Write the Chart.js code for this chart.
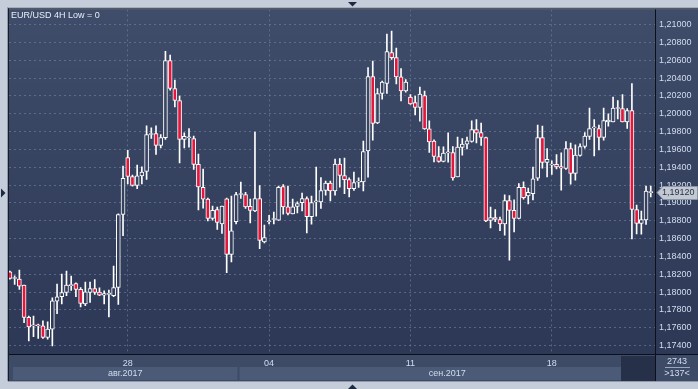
<!DOCTYPE html>
<html>
<head>
<meta charset="utf-8">
<script src="https://cdn.jsdelivr.net/npm/chart.js@4/dist/chart.umd.min.js"></script>
<style>
html, body { margin: 0; padding: 0; background: #c4cdd9; }
canvas { display: block; }
</style>
</head>
<body>
<canvas id="grafico" width="698" height="389"></canvas>
<script>
// =============================================
// EUR/USD 4H — velas (137 barras visibles)
// =============================================

const opens = [
  1.18228, 1.18153, 1.18146, 1.18078, 1.17716, 1.17622, 1.17630, 1.17622, 1.17491, 1.17585,
  1.17899, 1.17948, 1.17996, 1.18071, 1.18097, 1.18030, 1.17869, 1.17996, 1.18041, 1.18000,
  1.17966, 1.17974, 1.17959, 1.18052, 1.18871, 1.19510, 1.19297, 1.19196, 1.19304, 1.19353,
  1.19768, 1.19779, 1.19645, 1.19731, 1.20598, 1.20284, 1.20149, 1.19712, 1.19731, 1.19723,
  1.19432, 1.19174, 1.19043, 1.18826, 1.18927, 1.18766, 1.19046, 1.18422, 1.18789, 1.19095,
  1.19095, 1.18961, 1.18912, 1.19050, 1.18564, 1.18789, 1.18815, 1.18807, 1.19185, 1.18957,
  1.18878, 1.18961, 1.19002, 1.19050, 1.18845, 1.19013, 1.19013, 1.19140, 1.19222, 1.19136,
  1.19435, 1.19308, 1.19263, 1.19159, 1.19233, 1.19237, 1.19585, 1.20418, 1.19899, 1.20228,
  1.20340, 1.20687, 1.20631, 1.20415, 1.20258, 1.20187, 1.20127, 1.20071, 1.20205, 1.19831,
  1.19693, 1.19521, 1.19465, 1.19562, 1.19566, 1.19293, 1.19622, 1.19660, 1.19689, 1.19824,
  1.19790, 1.19734, 1.18804, 1.18837, 1.18815, 1.18766, 1.19028, 1.18916, 1.18826, 1.19174,
  1.19080, 1.19103, 1.19278, 1.19734, 1.19454, 1.19424, 1.19432, 1.19409, 1.19387, 1.19611,
  1.19331, 1.19532, 1.19633, 1.19746, 1.19843, 1.19835, 1.19734, 1.19910, 1.19910, 1.20059,
  1.20059, 1.19910, 1.20037, 1.18927, 1.18770, 1.18811, 1.19116
];
const highs = [
  1.18235, 1.18183, 1.18247, 1.18078, 1.17731, 1.17731, 1.17641, 1.17678, 1.17667, 1.17936,
  1.18090, 1.18202, 1.18235, 1.18179, 1.18104, 1.18052, 1.18112, 1.18112, 1.18142, 1.18048,
  1.18015, 1.18022, 1.18291, 1.18878, 1.19413, 1.19589, 1.19312, 1.19424, 1.19405, 1.19865,
  1.19843, 1.19865, 1.19768, 1.20702, 1.20658, 1.20377, 1.20198, 1.19787, 1.19835, 1.19749,
  1.19547, 1.19379, 1.19054, 1.18964, 1.18953, 1.18964, 1.19054, 1.19076, 1.19118, 1.19233,
  1.19118, 1.19043, 1.19794, 1.19196, 1.18751, 1.18860, 1.18897, 1.19189, 1.19207, 1.19189,
  1.19043, 1.19013, 1.19110, 1.19069, 1.19076, 1.19402, 1.19286, 1.19245, 1.19245, 1.19491,
  1.19499, 1.19503, 1.19282, 1.19346, 1.19282, 1.19693, 1.20519, 1.20590, 1.20284, 1.20366,
  1.20893, 1.20927, 1.20736, 1.20508, 1.20385, 1.20216, 1.20198, 1.20299, 1.20254, 1.19921,
  1.19708, 1.19633, 1.19630, 1.19787, 1.19633, 1.19738, 1.19723, 1.19738, 1.19921, 1.19936,
  1.19895, 1.19738, 1.18953, 1.18927, 1.18841, 1.19091, 1.19084, 1.19035, 1.19218, 1.19237,
  1.19166, 1.19402, 1.19873, 1.19861, 1.19611, 1.19473, 1.19544, 1.19562, 1.19689, 1.19671,
  1.19652, 1.19663, 1.19790, 1.20063, 1.19936, 1.19873, 1.20063, 1.20000, 1.20187, 1.20149,
  1.20216, 1.20059, 1.20340, 1.18975, 1.18908, 1.19189, 1.19189
];
const lows = [
  1.18146, 1.18086, 1.18030, 1.17656, 1.17454, 1.17499, 1.17480, 1.17480, 1.17473, 1.17398,
  1.17757, 1.17869, 1.17959, 1.18019, 1.17948, 1.17835, 1.17847, 1.17884, 1.17974, 1.17959,
  1.17869, 1.17723, 1.17948, 1.17862, 1.18632, 1.19215, 1.19189, 1.19159, 1.19215, 1.19263,
  1.19723, 1.19544, 1.19618, 1.19712, 1.20265, 1.20078, 1.19450, 1.19618, 1.19626, 1.19375,
  1.18923, 1.18942, 1.18800, 1.18807, 1.18703, 1.18658, 1.18217, 1.18340, 1.18766, 1.19050,
  1.18938, 1.18777, 1.18901, 1.18486, 1.18553, 1.18766, 1.18766, 1.18804, 1.18875, 1.18867,
  1.18878, 1.18889, 1.18912, 1.18665, 1.18762, 1.18852, 1.18938, 1.19088, 1.19024, 1.19088,
  1.19177, 1.19103, 1.19069, 1.19140, 1.19174, 1.19136, 1.19289, 1.19704, 1.19888, 1.20164,
  1.20228, 1.20609, 1.20336, 1.20145, 1.20243, 1.20104, 1.19988, 1.19917, 1.19824, 1.19566,
  1.19461, 1.19458, 1.19461, 1.19458, 1.19256, 1.19293, 1.19536, 1.19607, 1.19682, 1.19674,
  1.19645, 1.18789, 1.18721, 1.18789, 1.18688, 1.18639, 1.18359, 1.18676, 1.18822, 1.19043,
  1.18990, 1.19035, 1.19252, 1.19390, 1.19293, 1.19319, 1.19383, 1.19144, 1.19375, 1.19211,
  1.19256, 1.19525, 1.19615, 1.19712, 1.19529, 1.19596, 1.19704, 1.19861, 1.19910, 1.19944,
  1.19910, 1.19835, 1.18598, 1.18654, 1.18650, 1.18759, 1.19069
];
const closes = [
  1.18153, 1.18161, 1.18067, 1.17716, 1.17611, 1.17630, 1.17622, 1.17491, 1.17585, 1.17903,
  1.17948, 1.17996, 1.18078, 1.18086, 1.18030, 1.17873, 1.18004, 1.18041, 1.17996, 1.17966,
  1.17985, 1.17978, 1.18052, 1.18871, 1.19275, 1.19297, 1.19196, 1.19304, 1.19346, 1.19768,
  1.19779, 1.19645, 1.19734, 1.20598, 1.20284, 1.20149, 1.19712, 1.19746, 1.19735, 1.19432,
  1.19181, 1.19043, 1.18826, 1.18916, 1.18781, 1.18964, 1.18422, 1.18688, 1.19095, 1.19099,
  1.18957, 1.18916, 1.19050, 1.18579, 1.18613, 1.18793, 1.18819, 1.19174, 1.18957, 1.18882,
  1.18957, 1.18994, 1.19050, 1.18845, 1.19005, 1.19017, 1.19140, 1.19222, 1.19136, 1.19435,
  1.19308, 1.19260, 1.19159, 1.19230, 1.19237, 1.19577, 1.20418, 1.19891, 1.20228, 1.20355,
  1.20699, 1.20631, 1.20415, 1.20258, 1.20355, 1.20112, 1.20071, 1.20220, 1.19831, 1.19686,
  1.19521, 1.19465, 1.19559, 1.19566, 1.19282, 1.19626, 1.19660, 1.19697, 1.19824, 1.19783,
  1.19734, 1.18800, 1.18837, 1.18815, 1.18766, 1.19028, 1.18916, 1.18826, 1.19174, 1.19058,
  1.19118, 1.19271, 1.19734, 1.19454, 1.19488, 1.19428, 1.19405, 1.19390, 1.19611, 1.19331,
  1.19536, 1.19633, 1.19749, 1.19835, 1.19847, 1.19734, 1.19925, 1.19929, 1.20063, 1.20063,
  1.19910, 1.20037, 1.18927, 1.18770, 1.18815, 1.19132, 1.19120
];

const yTicks = [1.174, 1.176, 1.178, 1.180, 1.182, 1.184, 1.186, 1.188, 1.190, 1.192,
                1.194, 1.196, 1.198, 1.200, 1.202, 1.204, 1.206, 1.208, 1.210];
const dayTickIdx = [25, 55, 85, 115];
const dayTickText = ['28', '04', '11', '18'];
const monthText = ['авг.2017', 'сен.2017'];
const monthStartIdx = [0, 49];
const titulo = 'EUR/USD 4H Low = 0';
const totalBarras = 2743;

// ===== COLORES =====
const C_MARCO = '#c4cdd9';
const C_ROJO = '#e4163c';
const C_BLANCO = '#ffffff';
const C_GRID = 'rgba(120,138,170,0.55)';
const C_TEXTO = '#d2ddef';
const FUENTE = "'Liberation Sans', Arial, sans-serif";

let _grad = null;
function gradPanel(chart) {
    const a = chart.chartArea;
    if (!a) return '#36425f';
    if (!_grad) {
        _grad = chart.ctx.createLinearGradient(0, a.top, 0, a.bottom);
        _grad.addColorStop(0, '#3f4c6a');
        _grad.addColorStop(1, '#2c3855');
    }
    return _grad;
}

function fmtPrecio(v) {
    return v.toFixed(5).replace('.', ',');
}

// ===== FONDO / MARCO =====
const marcoPlugin = {
    id: 'marco',
    beforeDraw(chart) {
        const { ctx, chartArea: a, width } = chart;
        const xs = chart.scales.x;
        ctx.save();
        ctx.fillStyle = C_MARCO;
        ctx.fillRect(0, 0, chart.width, chart.height);

        // panel oscuro (área + eje Y)
        ctx.fillStyle = gradPanel(chart);
        ctx.fillRect(a.left, a.top, width - a.left, a.bottom - a.top);

        // eje X
        ctx.fillStyle = '#3d4b67';
        ctx.fillRect(a.left, a.bottom, width - a.left, 27);

        // franjas de mes
        const paso = xs.getPixelForValue(1) - xs.getPixelForValue(0);
        ctx.font = `9px ${FUENTE}`;
        ctx.textAlign = 'center';
        ctx.textBaseline = 'middle';
        monthStartIdx.forEach((ini, k) => {
            const x0 = k === 0 ? a.left + 4 : xs.getPixelForValue(ini) - paso / 2 + 1;
            const x1 = k + 1 < monthStartIdx.length ? xs.getPixelForValue(monthStartIdx[k + 1]) - paso / 2 - 1 : a.right;
            ctx.fillStyle = '#4a5a77';
            ctx.fillRect(x0, a.bottom + 13, x1 - x0, 13);
            ctx.fillStyle = C_TEXTO;
            ctx.fillText(monthText[k], (x0 + x1) / 2, a.bottom + 19.5);
        });

        // recuadro oscuro a la derecha del eje X
        ctx.fillStyle = '#263049';
        ctx.fillRect(a.right - 34, a.bottom + 2, 34, 25);
        ctx.restore();
    },
    afterDraw(chart) {
        const { ctx, chartArea: a, width } = chart;
        const ys = chart.scales.y;
        ctx.save();

        // bordes
        ctx.fillStyle = '#8e9aac';
        ctx.fillRect(a.left - 2, a.top - 2, width, 1);
        ctx.fillRect(a.left - 2, a.top - 2, 1, a.bottom + 29 - a.top);
        ctx.fillStyle = '#161c28';
        ctx.fillRect(a.left - 1, a.top - 1, width, 1);
        ctx.fillRect(a.left - 1, a.top - 1, 1, a.bottom + 28 - a.top);
        ctx.fillStyle = '#0c1018';
        ctx.fillRect(a.left, a.bottom, width - a.left, 1);
        ctx.fillRect(a.right, a.top, 1, a.bottom + 27 - a.top);
        ctx.fillStyle = '#8e9aac';
        ctx.fillRect(a.left - 1, a.bottom + 27, width, 1);

        // triángulos de navegación
        ctx.fillStyle = '#1d2940';
        ctx.beginPath(); ctx.moveTo(348, 2); ctx.lineTo(357, 2); ctx.lineTo(352.5, 6.5); ctx.fill();
        ctx.beginPath(); ctx.moveTo(348, 389); ctx.lineTo(357, 389); ctx.lineTo(352.5, 384.5); ctx.fill();
        ctx.beginPath(); ctx.moveTo(1, 188.5); ctx.lineTo(1, 197.5); ctx.lineTo(5.5, 193); ctx.fill();

        // título
        ctx.font = `9px ${FUENTE}`;
        ctx.fillStyle = '#e8eef7';
        ctx.textAlign = 'left';
        ctx.textBaseline = 'middle';
        ctx.fillText(titulo, a.left + 2, a.top + 6);

        // etiqueta de último precio
        const ult = closes[closes.length - 1];
        const py = Math.round(ys.getPixelForValue(ult)) + 0.5;
        ctx.fillStyle = '#c3c9d2';
        ctx.strokeStyle = '#8b94a3';
        ctx.lineWidth = 1;
        ctx.beginPath();
        ctx.moveTo(a.right + 2, py);
        ctx.lineTo(a.right + 8, py - 6);
        ctx.lineTo(width - 0.5, py - 6);
        ctx.lineTo(width - 0.5, py + 7);
        ctx.lineTo(a.right + 8, py + 7);
        ctx.closePath();
        ctx.fill();
        ctx.stroke();
        ctx.fillStyle = '#2b3447';
        ctx.fillText(fmtPrecio(ult), a.right + 7, py + 0.5);

        // celda inferior derecha
        ctx.textAlign = 'center';
        ctx.fillStyle = C_TEXTO;
        ctx.fillText(String(totalBarras), a.right + 22, a.bottom + 8);
        ctx.fillText('>' + closes.length + '<', a.right + 22, a.bottom + 20);
        ctx.fillStyle = '#9aa7bb';
        ctx.fillRect(a.right + 10, a.bottom + 13, 25, 1);
        ctx.restore();
    }
};

// ===== DATASETS =====
const mechas = lows.map((l, i) => ({ x: i, y: [l, highs[i]] }));
const cuerpos = opens.map((o, i) => ({ x: i, y: [o, closes[i]] }));

new Chart(document.getElementById('grafico'), {
    type: 'bar',
    data: {
        datasets: [
            {
                label: 'Cuerpo',
                data: cuerpos,
                order: 0,
                grouped: false,
                barThickness: 4,
                minBarLength: 1,
                borderWidth: 1,
                borderSkipped: false,
                borderColor: C_BLANCO,
                backgroundColor: c => (closes[c.dataIndex] < opens[c.dataIndex] ? C_ROJO : gradPanel(c.chart))
            },
            {
                label: 'Mecha',
                data: mechas,
                order: 1,
                grouped: false,
                barThickness: 1,
                borderWidth: 0,
                backgroundColor: C_BLANCO
            }
        ]
    },
    options: {
        responsive: false,
        devicePixelRatio: 1,
        animation: false,
        layout: { padding: { left: 9, top: 9, right: 0, bottom: 8 } },
        plugins: { legend: { display: false }, tooltip: { enabled: false } },
        scales: {
            x: {
                type: 'linear',
                min: -0.2,
                max: 136.9,
                offset: false,
                afterBuildTicks: s => { s.ticks = dayTickIdx.map(v => ({ value: v })); },
                afterFit: s => { s.height = 27; },
                grid: { color: C_GRID, offset: false, drawTicks: false },
                border: { display: false, dash: [2, 3] },
                ticks: {
                    color: C_TEXTO, font: { family: FUENTE, size: 9 }, padding: 4,
                    autoSkip: false, maxRotation: 0,
                    callback: (v, i) => dayTickText[i]
                }
            },
            y: {
                type: 'linear',
                position: 'right',
                min: 1.17306,
                max: 1.21171,
                afterBuildTicks: s => { s.ticks = yTicks.map(v => ({ value: v })); },
                afterFit: s => { s.width = 43; },
                grid: { color: C_GRID, drawTicks: false },
                border: { display: false, dash: [2, 3] },
                ticks: {
                    color: C_TEXTO, font: { family: FUENTE, size: 9 }, padding: 4,
                    autoSkip: false,
                    callback: v => fmtPrecio(v)
                }
            }
        }
    },
    plugins: [marcoPlugin]
});
</script>
</body>
</html>
